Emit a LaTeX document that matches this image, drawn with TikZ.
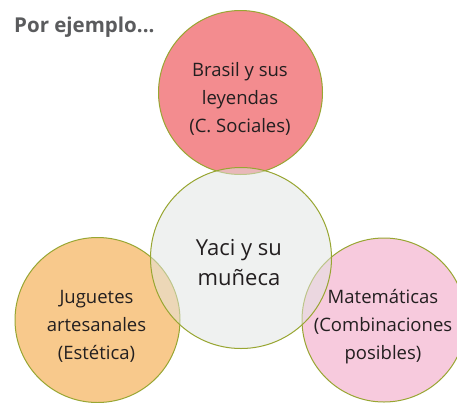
\documentclass[tikz,border=0pt]{standalone}
\usepackage{fontspec}
\setmainfont{Open Sans}
\definecolor{ring}{RGB}{152,166,50}
\definecolor{topfill}{RGB}{243,140,143}
\definecolor{midfill}{RGB}{225,229,227}
\definecolor{leftfill}{RGB}{248,201,140}
\definecolor{rightfill}{RGB}{247,202,221}
\definecolor{titlegray}{RGB}{90,91,93}
\definecolor{txt}{RGB}{35,31,32}
\tikzset{
  bubble/.style={circle, draw=ring, line width=1pt, inner sep=0pt},
  btext/.style={align=center, text=txt, inner sep=0pt, font=\fontsize{18.5}{28}\selectfont},
}
\begin{document}
\begin{tikzpicture}[x=1pt,y=-1pt]
\useasboundingbox (0,0) rectangle (457,402);
\clip (0,0) rectangle (457,402);
\fill[white] (0,0) rectangle (457,402);
\node[anchor=base west, inner sep=0pt, text=titlegray, font=\fontsize{20.5}{24}\selectfont\bfseries] (title) at (14,32) {Por ejemplo...};
\node[bubble, fill=topfill, minimum size=164pt] (top) at (240.5,92.5) {};
\node[bubble, fill=leftfill, minimum size=165pt] (left) at (97.5,320) {};
\node[bubble, fill=rightfill, minimum size=164pt] (right) at (384,320) {};
\node[bubble, fill=midfill, fill opacity=0.5, minimum size=181pt] (mid) at (241,258) {};
\node[btext] (toptext) at (240,99) {Brasil y sus\\leyendas\\(C. Sociales)};
\node[btext] (lefttext) at (96.5,326) {Juguetes\\artesanales\\(Estética)};
\node[btext] (righttext) at (383,327) {Matemáticas\\(Combinaciones\\posibles)};
\node[btext, font=\fontsize{22}{30}\selectfont] (midtext) at (239,263) {Yaci y su\\muñeca};
\end{tikzpicture}
\end{document}
